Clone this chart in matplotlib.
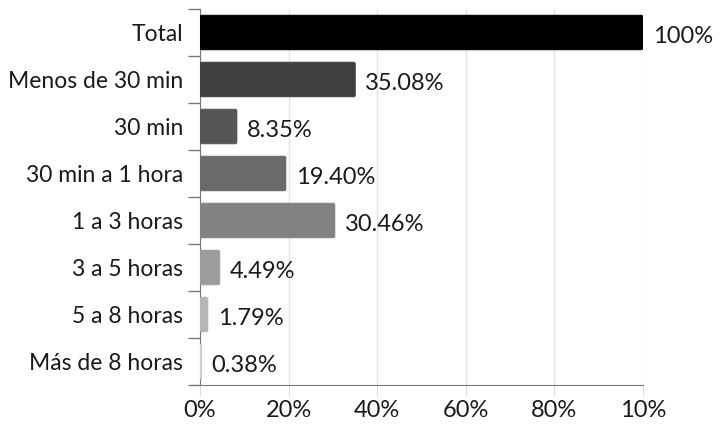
import matplotlib.pyplot as plt
import numpy as np
from matplotlib.patches import FancyBboxPatch

# datos
categorias = ['Total', 'Menos de 30 min', '30 min', '30 min a 1 hora',
              '1 a 3 horas', '3 a 5 horas', '5 a 8 horas', 'Más de 8 horas']
valores = [100, 35.08, 8.35, 19.40, 30.46, 4.49, 1.79, 0.38]
etiquetas = ['100%', '35.08%', '8.35%', '19.40%', '30.46%', '4.49%', '1.79%', '0.38%']
colores = ['#000000', '#3f3f3f', '#555555', '#6a6a6a',
           '#828282', '#9c9c9c', '#b5b5b5', '#cdcdcd']
xticks = [0, 20, 40, 60, 80, 100]
xtick_labels = ['0%', '20%', '40%', '60%', '80%', '10%']

plt.rcParams['font.family'] = ['Lato', 'DejaVu Sans']

fig = plt.figure(figsize=(7.2, 4.24), dpi=100)
ax = fig.add_axes([200/720, 1 - 385/424, 443/720, 376/424])

y = np.arange(len(categorias))
bars = ax.barh(y, valores, height=0.74, color=colores)

# esquinas redondeadas
for b, c in zip(bars, colores):
    b.set_visible(False)
    p = FancyBboxPatch((b.get_x(), b.get_y()), b.get_width(), b.get_height(),
                       boxstyle='round,pad=0,rounding_size=0.45',
                       mutation_aspect=0.08, facecolor=c,
                       edgecolor=c, linewidth=0.5, zorder=3)
    ax.add_patch(p)

for yi, v, t in zip(y, valores, etiquetas):
    ax.annotate(t, (v, yi), xytext=(7, -3), textcoords='offset points',
                va='center', ha='left', fontsize=17, color='#1a1a1a')

ax.set_xlim(0, 100)
ax.set_ylim(len(categorias) - 0.5, -0.5)
ax.set_xticks(xticks)
ax.set_xticklabels(xtick_labels, fontsize=17, color='#1a1a1a')
ax.set_yticks(y)
ax.set_yticklabels(categorias, fontsize=16.5, color='#1a1a1a')
ax.set_yticks(np.arange(-0.5, len(categorias)), minor=True)
ax.tick_params(axis='y', which='major', length=0, pad=12)
ax.tick_params(axis='y', which='minor', length=9, color='#777777', width=1)
ax.tick_params(axis='x', length=8, color='#dddddd', pad=3)

ax.grid(axis='x', color='#e3e3e3', linewidth=1)
ax.set_axisbelow(True)
for s in ['top', 'right']:
    ax.spines[s].set_visible(False)
ax.spines['left'].set_color('#777777')
ax.spines['bottom'].set_color('#777777')

fig.savefig('out.png', dpi=100)
